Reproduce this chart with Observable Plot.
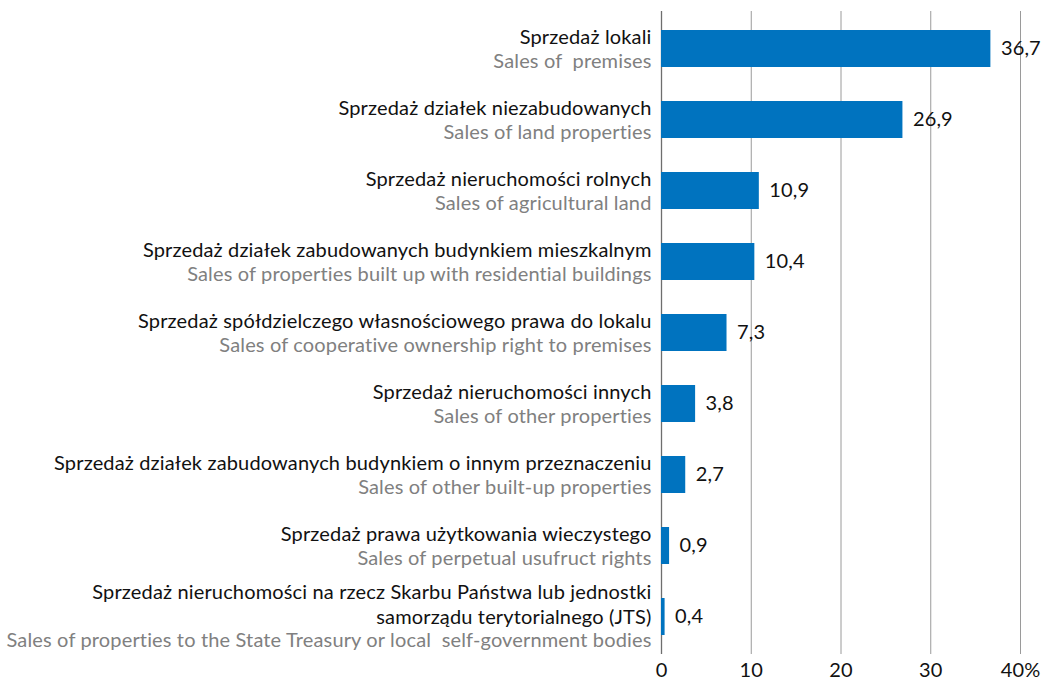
<!DOCTYPE html>
<html>
<head>
<meta charset="utf-8">
<script src="https://cdn.jsdelivr.net/npm/d3@7"></script>
<script src="https://cdn.jsdelivr.net/npm/@observablehq/plot@0.6"></script>
<style>
  html, body { margin: 0; padding: 0; background: #fff; }
  #chart svg { display: block; }
</style>
</head>
<body>
<div id="chart"></div>
<script>
const categoriesPl = [
  "Sprzedaż lokali",
  "Sprzedaż działek niezabudowanych",
  "Sprzedaż nieruchomości rolnych",
  "Sprzedaż działek zabudowanych budynkiem mieszkalnym",
  "Sprzedaż spółdzielczego własnościowego prawa do lokalu",
  "Sprzedaż nieruchomości innych",
  "Sprzedaż działek zabudowanych budynkiem o innym przeznaczeniu",
  "Sprzedaż prawa użytkowania wieczystego",
  "Sprzedaż nieruchomości na rzecz Skarbu Państwa lub jednostki\nsamorządu terytorialnego (JTS)"
];
const categoriesEn = [
  "Sales of  premises",
  "Sales of land properties",
  "Sales of agricultural land",
  "Sales of properties built up with residential buildings",
  "Sales of cooperative ownership right to premises",
  "Sales of other properties",
  "Sales of other built-up properties",
  "Sales of perpetual usufruct rights",
  "Sales of properties to the State Treasury or local  self-government bodies"
];
const values = [36.7, 26.9, 10.9, 10.4, 7.3, 3.8, 2.7, 0.9, 0.4];
const xTicks = [0, 10, 20, 30, 40];
const xTickLabels = ["0", "10", "20", "30", "40%"];

const data = values.map((v, i) => ({id: i, pl: categoriesPl[i], en: categoriesEn[i], value: v}));
const normal = data.filter(d => !d.pl.includes("\n"));
const multi = data.filter(d => d.pl.includes("\n"));
const fmt = v => v.toFixed(1).replace(".", ",");

const font = "Lato, sans-serif";
const fs = 20;

const chart = Plot.plot({
  width: 1050,
  height: 682,
  marginLeft: 661,
  marginRight: 30,
  marginTop: 11,
  marginBottom: 28,
  style: {fontFamily: font, fontSize: fs + "px", background: "#fff", letterSpacing: "0.15px"},
  x: {domain: [0, 40], label: null, axis: null},
  y: {domain: data.map(d => d.id), paddingInner: 0.475, paddingOuter: 0.2375, axis: null},
  marks: [
    Plot.ruleX(xTicks.filter(t => t > 0), {stroke: "#9a9a9a", strokeWidth: 1}),
    Plot.ruleX([0], {stroke: "#6e6e6e", strokeWidth: 1.3}),
    Plot.barX(data, {y: "id", x: "value", fill: "#0073bf"}),
    Plot.text(data, {y: "id", x: "value", text: d => fmt(d.value), dx: 10, textAnchor: "start", fill: "#111", fontSize: 20}),
    Plot.text(normal, {y: "id", x: 0, text: "pl", dx: -10, dy: -11.5, textAnchor: "end", fill: "#111", fontSize: fs}),
    Plot.text(normal, {y: "id", x: 0, text: "en", dx: -10, dy: 12.5, textAnchor: "end", fill: "#808080", fontSize: fs}),
    Plot.text(multi, {y: "id", x: 0, text: "pl", dx: -10, dy: -13.5, lineHeight: 1.22, textAnchor: "end", fill: "#111", fontSize: fs}),
    Plot.text(multi, {y: "id", x: 0, text: "en", dx: -10, dy: 23.5, textAnchor: "end", fill: "#808080", fontSize: fs}),
    Plot.axisX(xTicks, {tickSize: 0, tickPadding: 8, tickFormat: (d) => xTickLabels[xTicks.indexOf(d)], fontSize: 20, fill: "#111", label: null, anchor: "bottom"})
  ]
});
document.getElementById("chart").appendChild(chart);
</script>
</body>
</html>
